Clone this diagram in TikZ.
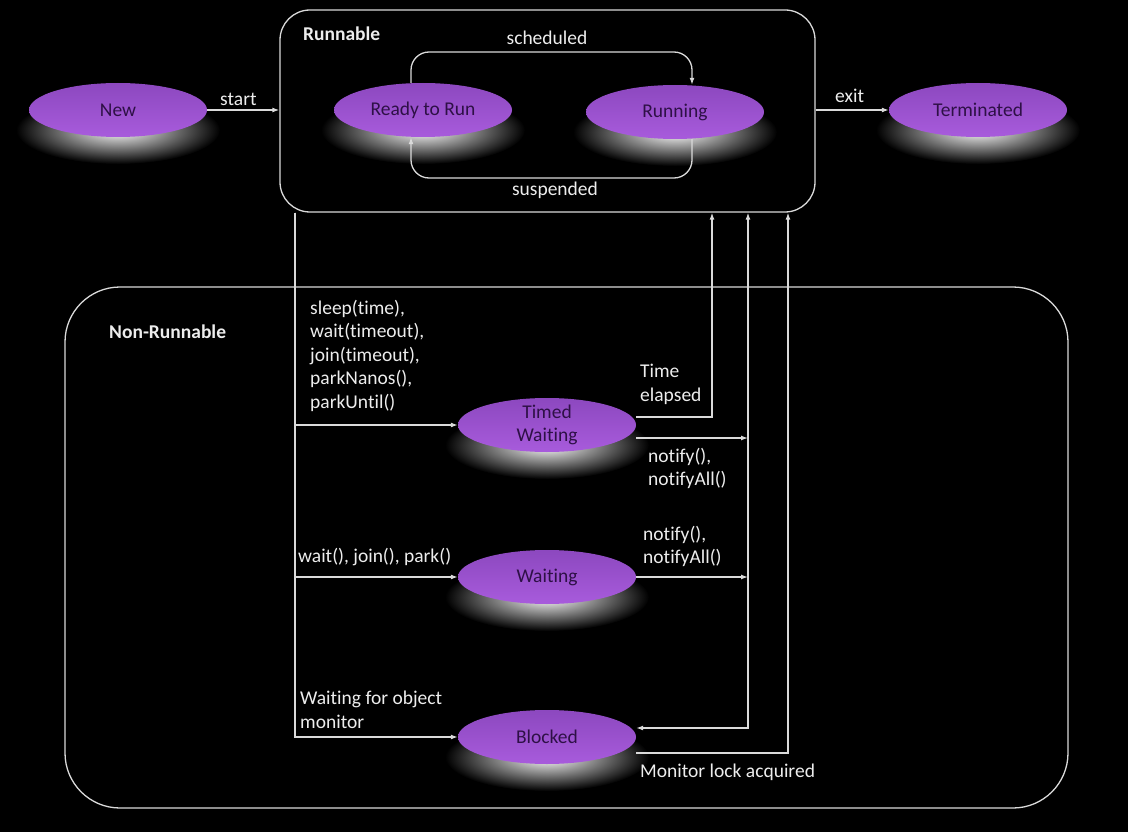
\documentclass[tikz,border=0pt]{standalone}
\usepackage{fontspec}
\setmainfont[Ligatures=NoCommon]{Carlito}
\usetikzlibrary{shapes.geometric,arrows.meta,calc}
\definecolor{linec}{HTML}{DADADA}
\definecolor{txtc}{HTML}{EDEDED}
\definecolor{stop}{HTML}{8C48BF}
\definecolor{sbot}{HTML}{A85BDC}
\definecolor{stxt}{HTML}{2E1046}
\tikzset{
  stateshape/.style={ellipse, top color=stop, bottom color=sbot, draw=none,
    minimum width=178pt, minimum height=54pt, inner sep=0pt, text=stxt,
    align=center, font=\fontsize{19.5}{23.5}\selectfont},
  conn/.style={draw=linec, line width=1.3pt},
  arr/.style={conn, -{Latex[length=7pt,width=5pt]}},
  lbl/.style={text=txtc, inner sep=0pt, align=left, font=\fontsize{19.5}{23.5}\selectfont},
  ttl/.style={lbl, font=\bfseries\fontsize{19.5}{23.5}\selectfont},
  container/.style={draw=linec, line width=1.3pt, inner sep=0pt}
}
\newcommand\myglow[2]{\shade[inner color=white, outer color=black] (#1,#2+20) ellipse (102pt and 34pt);}
\begin{document}
\begin{tikzpicture}[x=1pt,y=-1pt]
\useasboundingbox (0,0) rectangle (1128,832);
\fill[black] (0,0) rectangle (1128,832);

% containers
\node[container, rounded corners=30pt, minimum width=535pt, minimum height=202pt] (run) at (547.5,111) {};
\node[container, rounded corners=55pt, minimum width=1003pt, minimum height=521pt] (nonrun) at (566.5,547.5) {};

% glows
\myglow{118}{110}
\myglow{423}{110}
\myglow{675}{112}
\myglow{978}{110}
\myglow{547}{425}
\myglow{547}{577}
\myglow{547}{737}

% states
\node[stateshape] (new) at (118,110) {New};
\node[stateshape] (rr) at (423,110) {Ready to Run};
\node[stateshape] (rn) at (675,112) {Running};
\node[stateshape] (term) at (978,110) {Terminated};
\node[stateshape, inner ysep=-3pt] (tw) at (547,425) {Timed\\Waiting};
\node[stateshape] (w) at (547,577) {Waiting};
\node[stateshape] (b) at (547,737) {Blocked};

% helper coordinates
\coordinate (trunk) at (295,0);
\coordinate (te) at (712,0);
\coordinate (nt) at (748,0);
\coordinate (ml) at (788,0);
\coordinate (sch) at (0,52);
\coordinate (susp) at (0,178);
\coordinate (twe) at ([yshift=8pt]tw.east);
\coordinate (twn) at ([yshift=-13pt]tw.east);
\coordinate (bin) at ([yshift=9pt]b.east);
\coordinate (bout) at ([yshift=-16pt]b.east);

% top connectors
\draw[arr] (new.east) -- (new.east -| run.west);
\draw[arr] (run.east |- term.west) -- (term.west);
\draw[arr, rounded corners=18pt] ([xshift=-12pt]rr.north) |- ([xshift=17pt]rn.north |- sch) -- ([xshift=17pt]rn.north);
\draw[arr, rounded corners=18pt] ([xshift=17pt]rn.south) |- ([xshift=-12pt]rr.south |- susp) -- ([xshift=-12pt]rr.south);

% left trunk
\draw[arr] (run.south -| trunk) |- (tw.west);
\draw[arr] (run.south -| trunk) |- (w.west);
\draw[arr] (run.south -| trunk) |- (b.west);

% right side
\draw[arr] (twe) -| (run.south -| te);
\draw[arr] (twn) -- (twn -| nt);
\draw[arr] (w.east) -- (w.east -| nt);
\draw[conn, {Latex[length=7pt,width=5pt]}-{Latex[length=7pt,width=5pt]}] (bin) -| (run.south -| nt);
\draw[arr] (bout) -| (run.south -| ml);

% labels
\node[ttl, anchor=west] (lrun) at (303,34) {Runnable};
\node[ttl, anchor=west] (lnon) at (109,332) {Non-Runnable};
\node[lbl, anchor=west] (lstart) at (220,99) {start};
\node[lbl, anchor=west] (lexit) at (835,96) {exit};
\node[lbl] (lsch) at (547,38) {scheduled};
\node[lbl] (lsus) at (555,190) {suspended};
\node[lbl, anchor=north west] (lsleep) at (310,300) {sleep(time),\\wait(timeout),\\join(timeout),\\parkNanos(),\\parkUntil()};
\node[lbl, anchor=west] (lwait) at (298,557) {wait(), join(), park()};
\node[lbl, anchor=north west] (lobj) at (300,691) {Waiting for object\\monitor};
\node[lbl, anchor=north west] (ltime) at (640,364) {Time\\elapsed};
\node[lbl, anchor=north west] (lnot1) at (648,448) {notify(),\\notifyAll()};
\node[lbl, anchor=north west] (lnot2) at (643,526) {notify(),\\notifyAll()};
\node[lbl, anchor=west] (lmon) at (640,772) {Monitor lock acquired};
\end{tikzpicture}
\end{document}
